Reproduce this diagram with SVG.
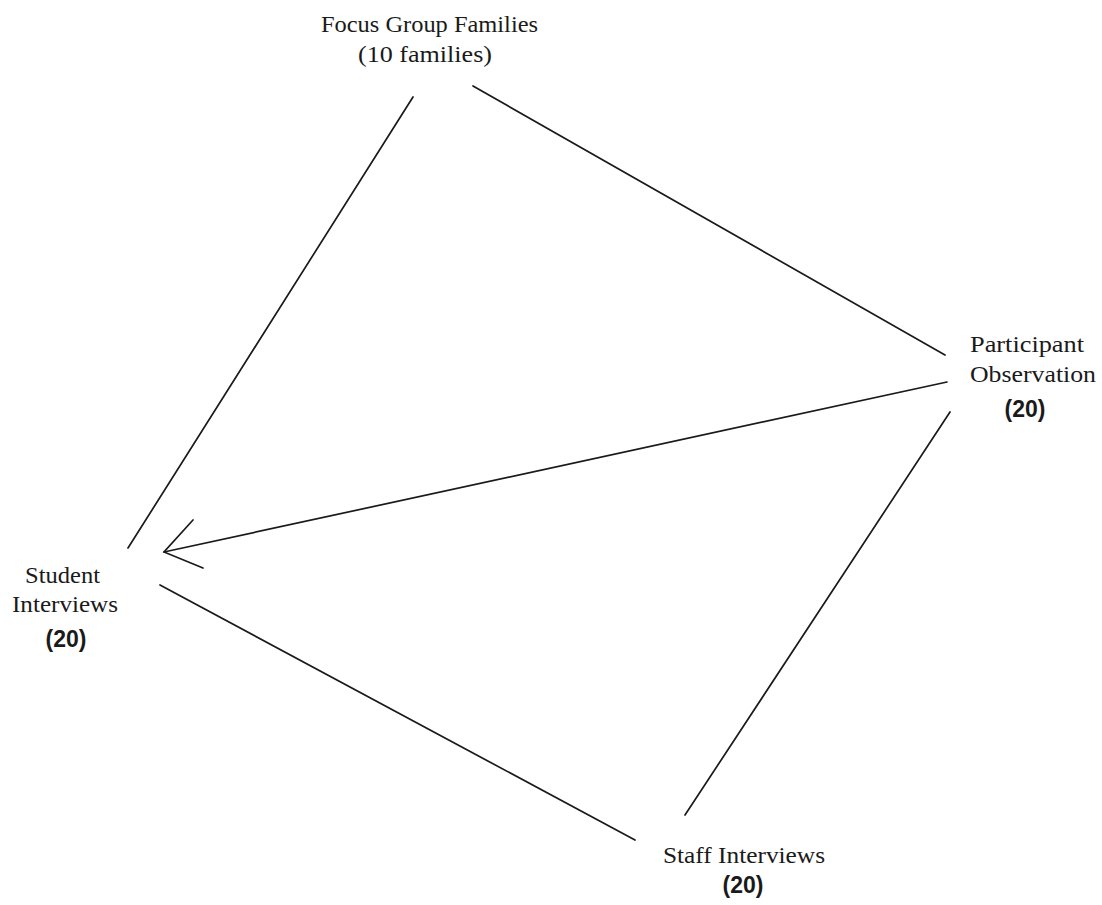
<svg xmlns="http://www.w3.org/2000/svg" width="1102" height="905" viewBox="0 0 1102 905">
<style>
.t{font-family:"Liberation Serif","Times New Roman",serif;font-size:24px;fill:#1a1a1a}
.n{font-family:"Liberation Sans",Arial,sans-serif;font-size:23px;font-weight:bold;fill:#1a1a1a;text-anchor:middle}
.c{stroke:#1a1a1a;stroke-width:1.7;fill:none;stroke-linecap:round}
</style>
<rect width="1102" height="905" fill="#fff"/>
<g id="focus">
<text class="t" x="321" y="32" textLength="217" lengthAdjust="spacingAndGlyphs">Focus Group Families</text>
<text class="t" x="358" y="62" textLength="134" lengthAdjust="spacingAndGlyphs">(10 families)</text>
</g>
<g id="participant">
<text class="t" x="970" y="352" textLength="114" lengthAdjust="spacingAndGlyphs">Participant</text>
<text class="t" x="970" y="382" textLength="126" lengthAdjust="spacingAndGlyphs">Observation</text>
<text class="n" x="1025" y="417">(20)</text>
</g>
<g id="student">
<text class="t" x="25" y="583" textLength="75" lengthAdjust="spacingAndGlyphs">Student</text>
<text class="t" x="12" y="612" textLength="106" lengthAdjust="spacingAndGlyphs">Interviews</text>
<text class="n" x="66" y="647">(20)</text>
</g>
<g id="staff">
<text class="t" x="663" y="863" textLength="162" lengthAdjust="spacingAndGlyphs">Staff Interviews</text>
<text class="n" x="743" y="893">(20)</text>
</g>
<g id="connectors">
<line class="c" x1="413" y1="97" x2="128" y2="548"/>
<line class="c" x1="473" y1="86" x2="945" y2="355"/>
<line class="c" x1="947" y1="382" x2="164" y2="552"/>
<polyline class="c" points="193,520 164,552 203,568"/>
<line class="c" x1="160" y1="585" x2="635" y2="840"/>
<line class="c" x1="685" y1="815" x2="950" y2="412"/>
</g>
</svg>
